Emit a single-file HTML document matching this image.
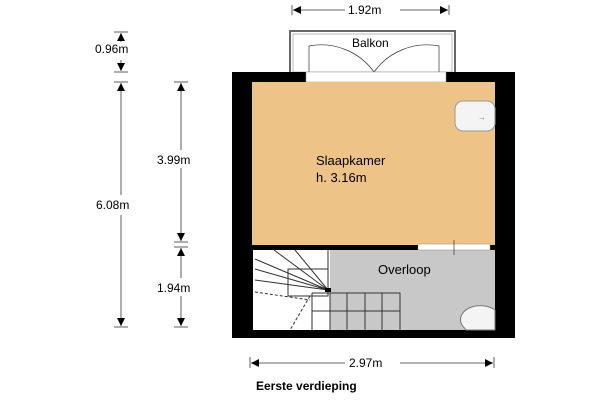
<!DOCTYPE html>
<html><head><meta charset="utf-8"><style>html,body{margin:0;padding:0;background:#fff}svg{display:block}text{font-family:"Liberation Sans",sans-serif;font-size:12px;fill:#000}</style></head>
<body>
<svg width="600" height="400" viewBox="0 0 600 400" xmlns="http://www.w3.org/2000/svg">
<defs>
<marker id="a" viewBox="0 0 10 10" refX="10" refY="5" markerWidth="12" markerHeight="8" orient="auto" markerUnits="userSpaceOnUse"><path d="M0,0L10,5L0,10z" fill="#000"/></marker>
</defs>
<!-- balcony -->
<rect x="290" y="31" width="165" height="42" fill="#fff" stroke="#666" stroke-width="2"/>
<rect x="293" y="34" width="159" height="38" fill="#fff" stroke="#aaa" stroke-width="0.8"/>
<text x="352" y="47">Balkon</text>
<path d="M309,72 V46 A65,65 0 0 1 374,72 M439,72 V46 A65,65 0 0 0 374,72" fill="none" stroke="#333" stroke-width="0.7"/>
<!-- walls -->
<rect x="232" y="72" width="283" height="266" fill="#000"/>
<rect x="306" y="72" width="140" height="10" fill="#fff" stroke="#999" stroke-width="0.5"/>
<rect x="252" y="82" width="243" height="163" fill="#eec388"/>
<rect x="253" y="250" width="77" height="80" fill="#fff"/>
<rect x="330" y="250" width="165" height="80" fill="#c8c8c8"/>
<rect x="418" y="244" width="72" height="6" fill="#fff" stroke="#888" stroke-width="0.5"/>
<line x1="454" y1="240" x2="454" y2="255" stroke="#333" stroke-width="0.7"/>
<!-- sink -->
<rect x="455" y="101" width="40" height="30" rx="8" fill="#f4f4f4" stroke="#999"/>
<text x="478" y="120" style="font-size:8px;fill:#777">→</text>
<!-- toilet -->
<path d="M495,310 A20,14 0 0 0 462,325 L466,330 H495z" fill="#f4f4f4" stroke="#777"/>
<!-- stairs -->
<g stroke="#333" stroke-width="1" fill="none">
<path d="M255,259 L328,290 M255,269 L328,290 M255,280 L328,290 M274,250 L328,290 M295,250 L328,290 M328,250 V290"/>
<rect x="288" y="269" width="40" height="27"/>
<path d="M312,293 H400 V330 M312,293 V330 M330,293 V330 M347,293 V330 M365,293 V330 M382,293 V330 M312,311 H400"/>
<path d="M255,292 L310,300 M310,296 L290,330" stroke-dasharray="3,2"/>
</g>
<rect x="325" y="288" width="6" height="4" fill="#000"/>
<!-- labels -->
<text x="316" y="165" style="font-size:13px">Slaapkamer</text>
<text x="316" y="182" style="font-size:13px">h. 3.16m</text>
<text x="378" y="274" style="font-size:13px">Overloop</text>
<text x="256" y="390" style="font-weight:bold;font-size:12px">Eerste verdieping</text>
<!-- dimensions -->
<g stroke="#333" stroke-width="0.8" fill="none">
<line x1="292" y1="5" x2="292" y2="15"/><line x1="449" y1="5" x2="449" y2="15"/>
<line x1="345" y1="10" x2="293" y2="10" marker-end="url(#a)"/>
<line x1="400" y1="10" x2="448" y2="10" marker-end="url(#a)"/>
<line x1="250" y1="357" x2="250" y2="368"/><line x1="494" y1="357" x2="494" y2="368"/>
<line x1="345" y1="363" x2="251" y2="363" marker-end="url(#a)"/>
<line x1="400" y1="363" x2="493" y2="363" marker-end="url(#a)"/>
<line x1="114" y1="32" x2="128" y2="32"/><line x1="114" y1="72" x2="128" y2="72"/>
<line x1="121" y1="42" x2="121" y2="33" marker-end="url(#a)"/>
<line x1="121" y1="60" x2="121" y2="71" marker-end="url(#a)"/>
<line x1="114" y1="82" x2="128" y2="82"/><line x1="114" y1="327" x2="128" y2="327"/>
<line x1="121" y1="195" x2="121" y2="83" marker-end="url(#a)"/>
<line x1="121" y1="215" x2="121" y2="326" marker-end="url(#a)"/>
<line x1="174" y1="82" x2="188" y2="82"/><line x1="174" y1="242" x2="188" y2="242"/>
<line x1="174" y1="247" x2="188" y2="247"/><line x1="174" y1="327" x2="188" y2="327"/>
<line x1="181" y1="150" x2="181" y2="83" marker-end="url(#a)"/>
<line x1="181" y1="168" x2="181" y2="241" marker-end="url(#a)"/>
<line x1="181" y1="278" x2="181" y2="248" marker-end="url(#a)"/>
<line x1="181" y1="296" x2="181" y2="326" marker-end="url(#a)"/>
</g>
<text x="348" y="14" style="font-size:12px">1.92m</text>
<text x="349" y="367">2.97m</text>
<text x="95" y="53">0.96m</text>
<text x="96" y="209">6.08m</text>
<text x="157" y="164">3.99m</text>
<text x="157" y="292">1.94m</text>
</svg>
</body></html>
